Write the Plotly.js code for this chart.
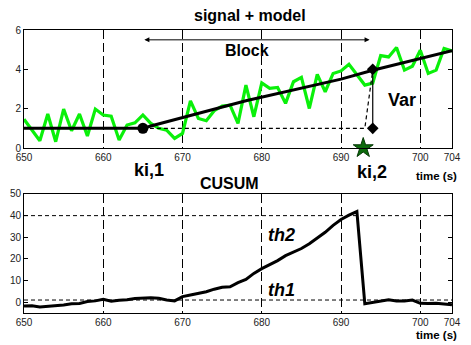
<!DOCTYPE html>
<html>
<head>
<meta charset="utf-8">
<script src="https://cdn.plot.ly/plotly-3.0.1.min.js"></script>
<style>html,body{margin:0;padding:0;background:#fff;}#chart{width:471px;height:345px;}</style>
</head>
<body>
<div id="chart"></div>
<script>
// ---- data ----
const time = [650,651,652,653,654,655,656,657,658,659,660,661,662,663,664,665,666,667,668,669,670,671,672,673,674,675,676,677,678,679,680,681,682,683,684,685,686,687,688,689,690,691,692,693,694,695,696,697,698,699,700,701,702,703,704];
const signal = [1.46,0.9,0.37,1.73,0.32,1.98,0.88,1.73,0.61,1.98,1.68,1.62,0.41,1.17,1.28,1.68,1.25,1.0,0.91,0.49,0.74,2.40,1.5,1.39,1.9,2.13,2.18,1.25,3.2,1.59,3.31,3.03,3.08,2.27,3.37,3.59,2.01,3.74,2.86,3.79,3.92,4.26,3.75,3.2,3.3,4.7,4.63,5.11,3.96,4.16,4.97,3.79,3.96,5.06,4.94];
const cusum = [-1.8,-1.6,-2.2,-2.0,-1.5,-1.3,-0.7,-0.6,0.3,0.6,1.3,0.4,0.9,1.1,1.7,2.0,2.0,1.8,1.0,0.6,2.6,3.3,4.0,4.8,6.0,6.9,7.1,9.0,10.5,13.3,15.5,17.2,19.2,21.5,23.0,24.8,27.0,29.5,32.3,35.5,38.2,40.2,41.9,-0.7,0,0.6,1.1,0.6,0.5,1.0,-0.5,-0.6,-0.5,-0.8,-1.2];
const modelT = [650,665,666,670,678,690,694,704];
const modelY = [1,1,1.12,1.54,2.4,3.5,3.95,4.95];
const ki1 = [665, 1];
const ki2 = [694, 4];
const varBase = [694, 1];
const refLineT = [665, 693, 694];
const refLineY = [1, 1, 3.95];
const starPt = [692.8, 0];
const blockSpan = [665, 693.6];
const th1 = 1, th2 = 40;
const xTicks = [650,660,670,680,690,700,704];
const yTicksTop = [0,2,4,6];
const yTicksBot = [0,10,20,30,40,50];

const FONT = '"Liberation Sans", Arial, Helvetica, sans-serif';

const traces = [
  {x: time, y: signal, xaxis:'x', yaxis:'y', mode:'lines', line:{color:'rgb(10,240,10)', width:3.2}, hoverinfo:'skip'},
  {x: refLineT, y: refLineY, xaxis:'x', yaxis:'y', mode:'lines', line:{color:'#000', width:1.2, dash:'4px,3px'}},
  {x: [varBase[0], ki2[0]], y: [varBase[1], ki2[1]], xaxis:'x', yaxis:'y', mode:'lines', line:{color:'#000', width:1.2}},
  {x: modelT, y: modelY, xaxis:'x', yaxis:'y', mode:'lines', line:{color:'#000', width:3}},
  {x: [ki1[0]], y: [ki1[1]], xaxis:'x', yaxis:'y', mode:'markers', marker:{symbol:'circle', size:11, color:'#000'}},
  {x: [ki2[0], varBase[0]], y: [ki2[1], varBase[1]], xaxis:'x', yaxis:'y', mode:'markers', marker:{symbol:'diamond', size:9, color:'#000'}},
  {x: [starPt[0]], y: [starPt[1]], xaxis:'x', yaxis:'y', mode:'markers', marker:{symbol:'star', size:15, color:'#0b6b0b', line:{color:'#063806', width:1}}, cliponaxis:false},
  {x: time, y: cusum, xaxis:'x2', yaxis:'y2', mode:'lines', line:{color:'#000', width:3}}
];

const axX = {
  range:[650,704], tickvals:xTicks, ticktext:xTicks.map(String),
  showgrid:true, gridcolor:'#000', gridwidth:1, griddash:'9px,4px',
  showline:true, linecolor:'#000', linewidth:1, mirror:true,
  ticks:'', zeroline:false, tickfont:{size:10, color:'#222', family:FONT}
};
const axY = {
  showgrid:false, showline:true, linecolor:'#000', linewidth:1, mirror:'ticks',
  ticks:'inside', ticklen:4, tickcolor:'#000', zeroline:false,
  tickfont:{size:10, color:'#222', family:FONT}
};

function ann(o){ return Object.assign({showarrow:false, xanchor:'center', yanchor:'middle'}, o); }

const layout = {
  width:471, height:345,
  margin:{l:24, r:19, t:30, b:32},
  paper_bgcolor:'#fff', plot_bgcolor:'#fff',
  showlegend:false,
  font:{family:FONT, color:'#000'},
  xaxis: Object.assign({}, axX, {anchor:'y', domain:[0,1]}),
  yaxis: Object.assign({}, axY, {anchor:'x', domain:[0.583,1], range:[0,6], tickvals:yTicksTop}),
  xaxis2: Object.assign({}, axX, {anchor:'y2', domain:[0,1]}),
  yaxis2: Object.assign({}, axY, {anchor:'x2', domain:[0,0.4205], range:[-5,50], tickvals:yTicksBot}),
  shapes:[
    {type:'line', xref:'x2', yref:'y2', x0:650, x1:704, y0:th2, y1:th2, line:{color:'#000', width:1, dash:'4px,3px'}},
    {type:'line', xref:'x2', yref:'y2', x0:650, x1:704, y0:th1, y1:th1, line:{color:'#000', width:1, dash:'4px,3px'}}
  ],
  annotations:[
    ann({text:'<b>signal + model</b>', xref:'paper', yref:'paper', x:0.528, y:1.053, font:{size:16}}),
    ann({text:'<b>CUSUM</b>', xref:'paper', yref:'paper', x:0.481, y:0.459, font:{size:16}}),
    ann({text:'<b>ki,1</b>', xref:'paper', yref:'paper', x:0.292, y:0.505, font:{size:18}}),
    ann({text:'<b>ki,2</b>', xref:'paper', yref:'paper', x:0.813, y:0.498, font:{size:18}}),
    ann({text:'<b>time (s)</b>', xref:'paper', yref:'paper', x:0.963, y:0.484, font:{size:11.5}}),
    ann({text:'<b>time (s)</b>', xref:'paper', yref:'paper', x:0.963, y:-0.078, font:{size:11.5}}),
    ann({text:'<b>Block</b>', xref:'x', yref:'y', x:678.1, y:4.97, font:{size:16}}),
    ann({text:'<b>Var</b>', xref:'x', yref:'y', x:697.7, y:2.44, font:{size:18}}),
    ann({text:'<b><i>th2</i></b>', xref:'x2', yref:'y2', x:682.5, y:31, font:{size:18}}),
    ann({text:'<b><i>th1</i></b>', xref:'x2', yref:'y2', x:682.5, y:5.5, font:{size:18}}),
    {text:'', xref:'x', yref:'y', axref:'x', ayref:'y', x:blockSpan[1], y:5.5, ax:blockSpan[0], ay:5.5,
     showarrow:true, arrowhead:2, arrowside:'end+start', arrowsize:1, arrowwidth:1, arrowcolor:'#000', standoff:0, startstandoff:0}
  ]
};

Plotly.newPlot('chart', traces, layout, {displayModeBar:false, staticPlot:true});
</script>
</body>
</html>
